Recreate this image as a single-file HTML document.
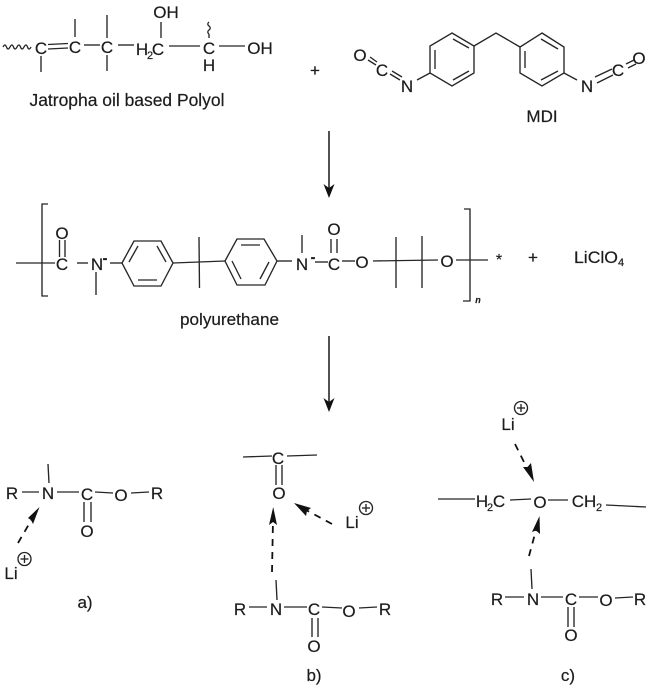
<!DOCTYPE html>
<html><head><meta charset="utf-8"><style>
html,body{margin:0;padding:0;background:#fff}
svg{display:block}
text{font-family:"Liberation Sans",Arial,sans-serif;font-size:17px;fill:#1c1c1c;stroke:#1c1c1c;stroke-width:.2;text-anchor:middle}
.s{font-size:11px}
.m{font-size:15px;font-weight:bold}
line,polyline,polygon.r,path.l,circle{stroke:#262626;stroke-width:1.35;fill:none}
.d{stroke-width:1.8;stroke-dasharray:7 6;stroke:#111}
.h{fill:#111;stroke:none}
</style></head><body>
<svg width="650" height="690" viewBox="0 0 650 690" xmlns="http://www.w3.org/2000/svg">
<!-- polyol -->
<path class="l" d="M3 47q2-4 3.500 0t3.500 0 3.500 0 3.500 0 3.500 0 3.500 0 3.500 0 3.500 0"/>
<text x="41" y="54">C</text><text x="75" y="53">C</text><text x="107" y="53">C</text>
<line x1="48" y1="44.500" x2="68" y2="43.500"/><line x1="48" y1="49" x2="68" y2="48"/>
<line x1="75" y1="19" x2="75" y2="37"/><line x1="41" y1="56" x2="41" y2="72"/>
<line x1="84" y1="45" x2="100" y2="45"/>
<line x1="107" y1="15" x2="107" y2="38"/><line x1="107" y1="55" x2="107" y2="71"/>
<line x1="118" y1="45" x2="134" y2="45"/>
<text x="142" y="55">H</text><text class="s" x="150" y="59">2</text><text x="158" y="55">C</text>
<text x="166" y="18">OH</text>
<line x1="161" y1="22" x2="161" y2="38"/>
<line x1="169" y1="46" x2="200" y2="46"/>
<text x="209" y="54">C</text><text x="209" y="71">H</text>
<path class="l" d="M209 22q-2.500 2 0 4t0 4 0 4"/>
<line x1="209" y1="34" x2="209" y2="38"/>
<line x1="219" y1="46" x2="245" y2="46"/>
<text x="260" y="54">OH</text>
<text x="127" y="106" style="font-size:17.400px" textLength="195" lengthAdjust="spacingAndGlyphs">Jatropha oil based Polyol</text>
<text x="315" y="76">+</text>
<!-- MDI -->
<polygon class="r" points="452,33 474,46 474,73 452,86 430,73 430,46"/>
<line x1="453" y1="39" x2="469" y2="48"/><line x1="469" y1="71" x2="453" y2="80"/><line x1="435" y1="69" x2="435" y2="50"/>
<polyline points="474,46 496,33 520,47"/>
<polygon class="r" points="542,33 564,47 564,73 542,86 520,73 520,47"/>
<line x1="541" y1="39" x2="558" y2="49"/><line x1="558" y1="71" x2="541" y2="80"/><line x1="525" y1="68" x2="525" y2="51"/>
<line x1="417" y1="80" x2="430" y2="73"/><line x1="577" y1="80" x2="564" y2="73"/>
<text x="407" y="92">N</text><text x="382" y="76">C</text><text x="360" y="61">O</text>
<text x="587" y="92">N</text><text x="618" y="76">C</text><text x="639" y="64">O</text>
<line x1="368" y1="60" x2="376" y2="65"/><line x1="370" y1="57" x2="377" y2="62"/>
<line x1="390" y1="74" x2="400" y2="80"/><line x1="392" y1="71" x2="402" y2="77"/>
<line x1="595" y1="77" x2="612" y2="69"/><line x1="597" y1="83" x2="613" y2="75"/>
<line x1="626" y1="64" x2="634" y2="60"/><line x1="628" y1="68" x2="636" y2="64"/>
<text x="542" y="122">MDI</text>
<!-- arrows -->
<line x1="329" y1="131" x2="329" y2="190" style="stroke-width:1.6"/><polygon class="h" points="323.500,184 329,198 334.500,184 329,188"/>
<line x1="329" y1="336" x2="329" y2="404" style="stroke-width:1.6"/><polygon class="h" points="323.500,398 329,412 334.500,398 329,402"/>
<!-- polyurethane -->
<polyline points="48,204 42,204 42,296 48,296"/>
<line x1="16" y1="263" x2="55" y2="263"/>
<text x="62" y="270">C</text><text x="62" y="239">O</text>
<line x1="59.500" y1="240" x2="59.500" y2="257"/><line x1="65" y1="240" x2="65" y2="257"/>
<line x1="77" y1="263" x2="88" y2="263"/>
<text x="97" y="270">N</text><text class="m" x="105" y="263">-</text>
<line x1="96" y1="272" x2="96" y2="295"/>
<line x1="110" y1="263" x2="122" y2="263"/>
<polygon class="r" points="122,263 134,241 161,241 173,263 161,286 134,286"/>
<line x1="129" y1="262" x2="138" y2="246"/><line x1="157" y1="246" x2="166" y2="262"/><line x1="138" y1="280" x2="157" y2="280"/>
<line x1="173" y1="263" x2="225" y2="261"/>
<line x1="199" y1="237" x2="199.500" y2="288"/>
<polygon class="r" points="225,261 237,239 264,239 277,261 265,285 237,285"/>
<line x1="241" y1="245" x2="260" y2="245"/><line x1="232" y1="261" x2="241" y2="279"/><line x1="269" y1="262" x2="260" y2="279"/>
<line x1="277" y1="261" x2="292" y2="261"/>
<text x="302" y="270">N</text><text class="m" x="313" y="262">-</text>
<line x1="302" y1="235" x2="302" y2="253"/>
<line x1="315" y1="262" x2="328" y2="262"/>
<text x="334" y="270">C</text><text x="334" y="235">O</text>
<line x1="331" y1="239" x2="331" y2="253"/><line x1="337" y1="239" x2="337" y2="253"/>
<line x1="342" y1="261" x2="355" y2="261"/>
<text x="362" y="268">O</text>
<line x1="373" y1="261" x2="438" y2="260"/>
<line x1="396" y1="237" x2="396" y2="288"/><line x1="422" y1="236" x2="422" y2="288"/>
<text x="447" y="267">O</text>
<line x1="456" y1="260" x2="488" y2="260"/>
<polyline points="464,209 470,209 470,301 463,301"/>
<text x="478" y="303" style="font-size:9px;font-style:italic;font-weight:bold">n</text>
<text x="499" y="265" style="font-size:16px">*</text>
<text x="533" y="263">+</text>
<text x="596" y="263" textLength="44" lengthAdjust="spacingAndGlyphs">LiClO</text><text class="s" x="621" y="266">4</text>
<text x="229.500" y="325" textLength="99" lengthAdjust="spacingAndGlyphs">polyurethane</text>
<!-- a -->
<text x="12" y="499">R</text><line x1="22" y1="492" x2="39" y2="492"/>
<text x="48" y="499">N</text><line x1="48" y1="464" x2="49" y2="483"/>
<line x1="57" y1="492" x2="79" y2="492"/><text x="87" y="500">C</text>
<line x1="95" y1="492" x2="113" y2="493"/><text x="121" y="501">O</text>
<line x1="131" y1="493" x2="149" y2="492"/><text x="157" y="499">R</text>
<line x1="84" y1="502" x2="84" y2="522"/><line x1="91" y1="502" x2="91" y2="522"/>
<text x="87" y="537">O</text>
<line class="d" x1="18" y1="543" x2="32" y2="519"/><polygon class="h" points="39.500,507 28,518 31,520 33,524"/>
<text x="11" y="579">Li</text>
<circle cx="24.500" cy="559" r="6.500"/><line x1="20.500" y1="559" x2="28.500" y2="559"/><line x1="24.500" y1="555" x2="24.500" y2="563"/>
<text x="85" y="608">a)</text>
<!-- b -->
<line x1="243" y1="457" x2="272" y2="456"/><text x="278" y="464">C</text>
<line x1="287" y1="456" x2="317" y2="455"/>
<line x1="276" y1="465" x2="276" y2="485"/><line x1="282" y1="465" x2="282" y2="485"/>
<text x="279" y="499">O</text>
<line class="d" x1="272" y1="572" x2="273" y2="520"/><polygon class="h" points="273.200,507 269,525 273,522 277,525"/>
<line x1="276" y1="580" x2="277" y2="600"/>
<text x="240" y="615">R</text><line x1="249" y1="607" x2="267" y2="607"/>
<text x="276" y="615">N</text><line x1="284" y1="607" x2="307" y2="607"/>
<text x="314" y="615">C</text><line x1="322" y1="607" x2="342" y2="608"/>
<text x="349" y="617">O</text><line x1="359" y1="608" x2="377" y2="607"/>
<text x="385" y="615">R</text>
<line x1="312" y1="618" x2="312" y2="637"/><line x1="318" y1="618" x2="318" y2="637"/>
<text x="314" y="652">O</text>
<text x="314" y="681">b)</text>
<text x="352" y="528">Li</text>
<circle cx="366" cy="508" r="6.500"/><line x1="362" y1="508" x2="370" y2="508"/><line x1="366" y1="504" x2="366" y2="512"/>
<line class="d" x1="332" y1="524" x2="306" y2="510"/><polygon class="h" points="294,503 306,516 307,511 311,508"/>
<!-- c -->
<text x="508" y="430">Li</text>
<circle cx="521" cy="408" r="6.500"/><line x1="517" y1="408" x2="525" y2="408"/><line x1="521" y1="404" x2="521" y2="412"/>
<line class="d" x1="515" y1="444" x2="528" y2="470"/><polygon class="h" points="534,482 531,463 527.500,467 523,467"/>
<line x1="438" y1="499" x2="475" y2="499"/>
<text x="482" y="507">H</text><text class="s" x="490" y="511">2</text><text x="499" y="507">C</text>
<line x1="510" y1="500" x2="531" y2="499"/>
<text x="540" y="508">O</text>
<line x1="548" y1="500" x2="568" y2="500"/>
<text x="584" y="507">CH</text><text class="s" x="599" y="511">2</text>
<line x1="606" y1="505" x2="646" y2="507"/>
<line class="d" x1="529" y1="556" x2="536" y2="530"/><polygon class="h" points="539.500,516 532,532 536,530.500 540,534"/>
<line x1="531" y1="569" x2="532" y2="589"/>
<text x="497" y="605">R</text><line x1="505" y1="597" x2="524" y2="597"/>
<text x="533" y="605">N</text><line x1="541" y1="597" x2="563" y2="597"/>
<text x="571" y="605">C</text><line x1="579" y1="597" x2="598" y2="597"/>
<text x="606" y="606">O</text><line x1="615" y1="598" x2="633" y2="597"/>
<text x="640" y="605">R</text>
<line x1="568" y1="607" x2="568" y2="627"/><line x1="574" y1="607" x2="574" y2="627"/>
<text x="571" y="641">O</text>
<text x="568" y="681">c)</text>
</svg>
</body></html>
